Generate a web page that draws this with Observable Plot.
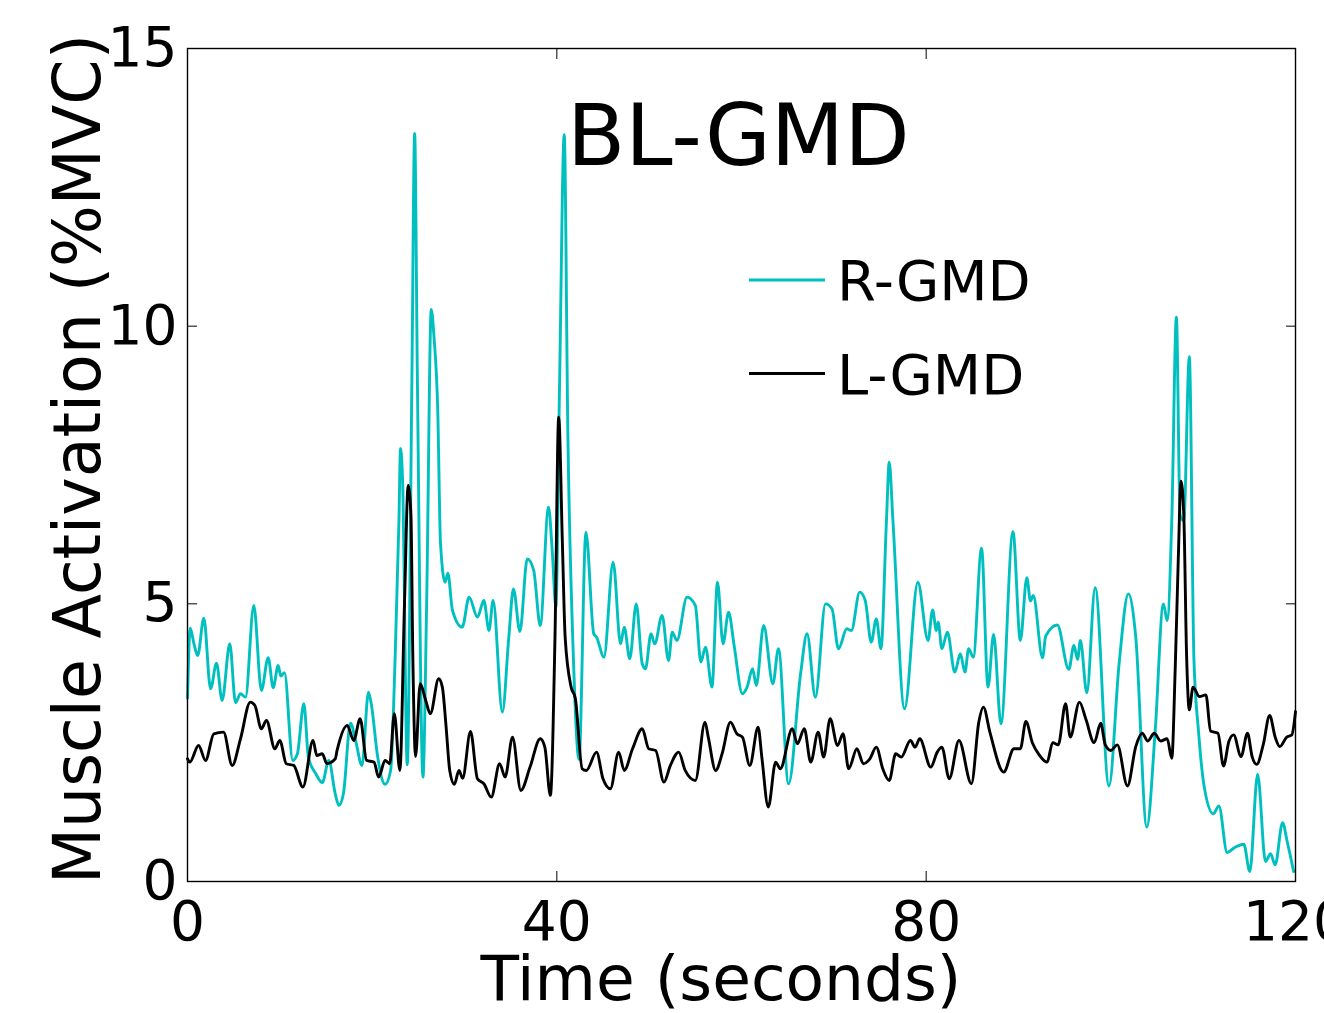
<!DOCTYPE html>
<html><head><meta charset="utf-8">
<script src="https://cdn.jsdelivr.net/npm/d3@7"></script>
<script src="https://cdn.jsdelivr.net/npm/@observablehq/plot@0.6"></script>
<style>
html,body{margin:0;padding:0;background:#fff;overflow:hidden}
#chart svg{font-family:"DejaVu Sans",sans-serif;color:#000}
</style>
</head><body><div id="chart"></div>
<script>
// ---- data ----
const timeR = [0,0.3,0.7,1.1,1.77,2.5,3.14,3.75,4.58,5.2,5.74,6.28,7.18,8.0,8.74,9.28,9.82,10.1,10.5,11.4,11.9,12.6,13.1,13.9,14.6,15.3,16.0,16.4,16.9,17.65,18.2,18.9,19.6,19.9,20.6,21.4,22.0,22.5,22.9,23.07,23.3,23.8,24.3,24.6,24.9,25.5,25.9,26.4,26.7,27.1,27.4,27.9,28.2,28.7,29.75,30.5,31.4,32.1,32.65,33.1,34.1,34.8,35.3,36.0,36.8,37.5,38.2,39.1,39.5,39.9,40.3,40.8,41.2,41.8,42.4,43.15,44.0,44.3,45.1,46.1,46.9,47.3,47.9,48.6,49.25,49.6,50.2,50.6,51.4,52.1,52.5,53.0,54.1,55.0,55.6,56.1,56.8,57.4,58.0,58.6,59.2,60.1,60.6,61.2,61.6,62.4,63.4,64.0,65.1,66.4,67.1,68.0,69.1,69.8,70.5,71.4,71.9,72.8,73.4,74.05,74.6,75.1,75.7,76.0,76.4,77.66,79.1,80.2,80.7,81.1,81.3,81.7,82.3,83.1,83.7,84.2,84.6,85.1,86.0,86.7,87.3,88.1,89.4,90.2,90.9,91.3,91.6,92.6,92.95,94.2,95.45,96.0,96.4,96.7,97.4,98.3,99.8,100.9,101.9,102.7,103.9,104.8,105.7,106.1,106.6,107.1,107.5,107.9,108.5,109.0,109.5,110.1,111.1,111.7,112.6,113.3,114.4,115.05,115.9,116.75,117.3,117.8,118.6,119.1,119.8];
const valR  = [3.3,4.56,4.28,4.07,4.74,3.47,3.93,3.26,4.28,3.22,3.38,3.32,4.97,3.44,4.03,3.49,3.89,3.7,3.76,2.18,2.3,3.2,2.23,1.94,1.78,2.18,1.58,1.37,1.6,2.85,2.54,2.09,3.41,3.2,2.24,1.75,2.0,4.1,6.5,7.8,7.2,2.1,9.0,13.47,9.0,1.88,5.0,10.3,9.8,8.5,6.1,5.39,5.55,4.88,4.58,5.12,4.76,5.06,4.52,5.06,3.05,4.4,5.27,4.5,5.81,5.6,4.61,6.74,5.96,4.94,9.0,13.45,8.0,4.0,2.2,6.29,4.46,4.4,4.04,5.75,4.28,4.58,4.01,5.0,3.92,3.83,4.46,4.28,4.79,3.98,4.49,4.34,5.12,4.97,3.95,4.22,3.5,5.39,4.28,4.85,4.25,3.38,3.5,3.83,3.53,4.61,3.56,4.19,1.76,3.74,4.46,3.32,5.0,4.91,4.19,4.55,4.52,5.21,5.06,4.31,4.73,4.19,6.5,7.55,6.5,3.11,5.39,4.34,4.89,4.52,4.67,4.19,4.49,3.77,4.1,3.77,4.19,4.04,6.0,3.5,4.45,2.84,6.3,4.34,5.47,5.05,5.15,4.03,4.42,4.62,3.82,4.25,4.0,4.34,3.4,5.29,1.72,3.93,5.18,4.4,0.98,2.7,5.0,4.7,6.5,10.16,6.6,6.5,9.45,4.0,2.7,1.72,1.22,1.36,0.52,0.6,0.67,0.18,1.93,0.36,0.5,0.3,1.06,0.72,0.18];
const timeL = [0,0.25,1.2,1.95,2.85,3.9,4.84,5.74,6.8,7.3,8.0,8.55,9.46,10.0,10.7,11.5,12.5,13.6,14.0,14.6,15.1,16.0,16.2,17.3,18.0,18.7,19.4,20.2,20.7,21.4,21.9,22.4,23.0,23.5,23.9,24.2,24.4,24.7,25.2,25.8,26.3,27.2,27.6,28.0,28.4,28.9,29.4,29.8,30.65,31.4,32.1,32.9,33.8,34.4,35.2,36.1,37.1,38.2,38.7,39.3,39.8,40.2,40.6,40.9,41.55,42.0,42.75,43.2,44.3,45.0,45.8,46.7,47.3,48.2,49.25,49.95,50.7,51.6,52.3,53.2,53.9,55.0,56.05,56.4,57.2,57.9,58.8,59.5,60.1,60.9,61.8,62.2,62.9,63.7,64.2,65.5,66.05,66.8,67.5,68.3,68.9,69.6,70.4,71.0,71.6,72.5,73.2,73.9,74.6,75.3,76.0,76.7,77.3,78.3,78.8,79.3,80.5,81.2,81.7,82.5,83.55,84.9,85.7,86.2,86.9,88.4,89.5,90.2,90.8,91.5,92.2,93.1,93.7,94.3,95.1,95.6,96.6,97.3,98.2,98.9,99.4,100.0,100.7,101.8,102.7,103.4,104.0,104.7,105.4,106.1,106.6,106.97,107.3,107.6,107.9,108.2,108.5,108.9,109.6,110.3,110.8,111.6,112.2,112.8,113.3,114.1,114.8,115.3,115.8,116.5,117.2,117.8,118.3,119.05,119.6,120];
const valL  = [2.21,2.15,2.45,2.18,2.66,2.69,2.09,2.57,3.23,3.17,2.75,2.9,2.39,2.54,2.12,2.09,1.7,2.54,2.27,2.3,2.12,2.21,2.36,2.81,2.54,2.93,2.18,2.15,1.88,2.18,2.12,3.02,2.0,5.0,7.13,6.6,4.1,2.25,3.56,3.26,3.02,3.65,3.5,2.8,2.0,1.75,2.0,1.86,2.7,1.85,1.76,1.52,2.12,1.88,2.6,1.64,2.06,2.57,2.42,1.55,4.4,8.36,6.1,4.4,3.5,3.3,2.03,2.0,2.33,1.85,1.67,2.33,2.0,2.39,2.75,2.39,2.36,1.79,2.09,2.33,2.0,1.82,2.87,2.6,2.0,2.3,2.87,2.66,2.6,2.09,2.78,2.24,1.34,2.15,2.03,2.75,2.48,2.75,2.15,2.69,2.24,2.93,2.45,2.66,2.03,2.39,2.12,2.21,2.42,2.03,1.82,2.3,2.24,2.54,2.42,2.57,2.06,2.33,2.42,1.85,2.54,1.76,2.87,3.14,2.69,1.97,2.39,2.39,2.88,2.5,2.29,2.15,2.5,2.46,3.2,2.6,3.23,2.92,2.5,2.85,2.46,2.36,2.46,1.72,2.43,2.67,2.53,2.67,2.53,2.57,2.22,3.82,5.78,7.21,6.61,4.1,3.09,3.5,3.33,3.36,2.71,2.67,2.08,2.53,2.64,2.25,2.67,2.25,2.11,2.46,2.99,2.6,2.43,2.6,2.64,3.06];
const seriesNames = ["R-GMD", "L-GMD"];
const seriesColors = ["#00BFBF", "#000000"];
const xTicks = [0, 40, 80, 120];
const yTicks = [0, 5, 10, 15];
const xDomain = [0, 120];
const yDomain = [0, 15];
const chartTitle = "BL-GMD";
const xLabel = "Time (seconds)";
const yLabel = "Muscle Activation (%MVC)";

// ---- build table ----
const rows = [
  ...timeR.map((t, i) => ({t, v: valR[i], s: seriesNames[0]})),
  ...timeL.map((t, i) => ({t, v: valL[i], s: seriesNames[1]}))
];

const W = 1324, H = 1013;
const M = {top: 48, right: 29, bottom: 132, left: 187};
const FONT = '"DejaVu Sans", sans-serif';
const LINE_W = 2.9;

const svgEl = Plot.plot({
  width: W, height: H,
  marginTop: M.top, marginRight: M.right, marginBottom: M.bottom, marginLeft: M.left,
  style: {fontFamily: FONT, background: "white", color: "black", overflow: "visible"},
  x: {domain: xDomain},
  y: {domain: yDomain},
  color: {domain: seriesNames, range: seriesColors},
  marks: [
    Plot.line(rows, {x: "t", y: "v", z: "s", stroke: "s", strokeWidth: LINE_W, curve: "monotone-x", strokeLinejoin: "round", strokeLinecap: "round"}),
    Plot.frame({stroke: "black", strokeWidth: 1.4}),
    Plot.axisY({anchor: "left", ticks: yTicks, tickSize: -10, tickPadding: 20, fontSize: 55, label: null, fill: "black", stroke: "black"}),
    Plot.axisY({anchor: "right", ticks: yTicks, tickSize: -10, tickFormat: () => "", label: null, stroke: "black"}),
    Plot.axisX({anchor: "bottom", ticks: xTicks, tickSize: -10, tickPadding: 29, fontSize: 55, label: null, fill: "black", stroke: "black"}),
    Plot.axisX({anchor: "top", ticks: xTicks, tickSize: -10, tickFormat: () => "", label: null, stroke: "black"})
  ]
});
document.getElementById("chart").appendChild(svgEl);

// ---- title, legend and axis labels ----
const svg = d3.select(svgEl);
const x0 = M.left, y0 = M.top, yB = H - M.bottom;

svg.append("text")
  .attr("x", x0 + 380).attr("y", y0 + 117)
  .attr("text-anchor", "start")
  .attr("font-family", FONT).attr("font-size", 85).attr("fill", "black")
  .text(chartTitle);

seriesNames.forEach((name, i) => {
  const ly = y0 + 232 + i * 93.5;
  svg.append("line")
    .attr("x1", x0 + 562).attr("x2", x0 + 638)
    .attr("y1", ly).attr("y2", ly)
    .attr("stroke", seriesColors[i]).attr("stroke-width", LINE_W);
  svg.append("text")
    .attr("x", x0 + 650).attr("y", ly + 20)
    .attr("text-anchor", "start")
    .attr("font-family", FONT).attr("font-size", 56).attr("fill", "black")
    .text(name);
});

svg.append("text")
  .attr("x", 721).attr("y", yB + 119)
  .attr("text-anchor", "middle")
  .attr("font-family", FONT).attr("font-size", 63).attr("fill", "black")
  .text(xLabel);

svg.append("text")
  .attr("transform", `translate(100,459) rotate(-90)`)
  .attr("text-anchor", "middle")
  .attr("font-family", FONT).attr("font-size", 65).attr("fill", "black")
  .text(yLabel);
</script>
</body></html>
